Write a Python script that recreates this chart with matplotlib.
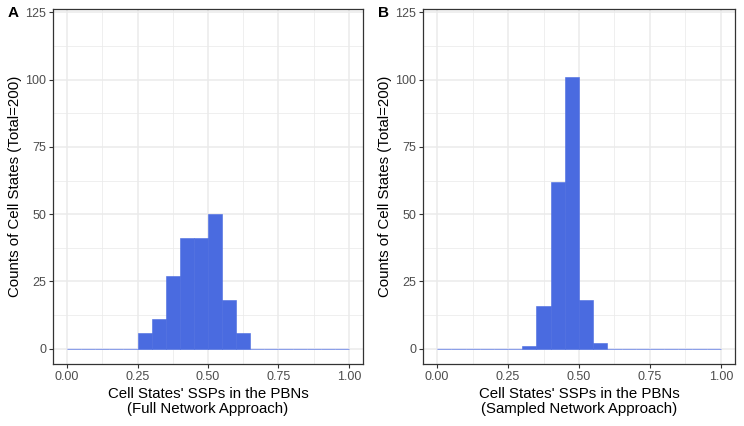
import numpy as np
import matplotlib.pyplot as plt

plt.rcParams['font.family'] = ['Liberation Sans', 'DejaVu Sans']

# histogram bins, width 0.05 from 0 to 1
bin_edges = np.round(np.arange(0, 1.0001, 0.05), 2)

counts_full = [0, 0, 0, 0, 0, 6, 11, 27, 41, 41, 50, 18, 6, 0, 0, 0, 0, 0, 0, 0]
counts_sampled = [0, 0, 0, 0, 0, 0, 1, 16, 62, 101, 18, 2, 0, 0, 0, 0, 0, 0, 0, 0]

xlabels = ["Cell States' SSPs in the PBNs\n(Full Network Approach)",
           "Cell States' SSPs in the PBNs\n(Sampled Network Approach)"]
ylabel = "Counts of Cell States (Total=200)"
panel_tags = ['A', 'B']

W, H = 744, 426
fig = plt.figure(figsize=(W / 100, H / 100), dpi=100)

# axes boxes in pixels: left, top, right, bottom
boxes = [(53, 9, 363, 364), (423, 9, 735, 364)]

for i, counts in enumerate([counts_full, counts_sampled]):
    l, t, r, b = boxes[i]
    ax = fig.add_axes([l / W, 1 - b / H, (r - l) / W, (b - t) / H])
    ax.set_axisbelow(True)
    # empty bins show up as a thin lavender line along zero
    ax.hlines(0, bin_edges[0], bin_edges[-1], color='#dfe2f5', linewidth=1.3, zorder=1.5)
    ax.bar(bin_edges[:-1], counts, width=0.05, align='edge',
           color='#4A6BE0', edgecolor='#4A6BE0', linewidth=0.4, zorder=2)
    ax.set_xlim(-0.05, 1.05)
    ax.set_ylim(-5.7, 126.3)
    ax.set_xticks([0, 0.25, 0.5, 0.75, 1.0])
    ax.set_xticklabels(['0.00', '0.25', '0.50', '0.75', '1.00'])
    ax.set_xticks([0.125, 0.375, 0.625, 0.875], minor=True)
    ax.set_yticks([0, 25, 50, 75, 100, 125])
    ax.set_yticks([12.5, 37.5, 62.5, 87.5, 112.5], minor=True)
    ax.grid(which='major', color='#EBEBEB', linewidth=1.1)
    ax.grid(which='minor', color='#EBEBEB', linewidth=0.55)
    ax.tick_params(which='major', length=3, width=0.8, color='#333333',
                   labelsize=9, labelcolor='#4D4D4D', pad=2)
    ax.tick_params(which='minor', length=0)
    for s in ax.spines.values():
        s.set_color('#333333')
        s.set_linewidth(0.9)
    ax.set_xlabel(xlabels[i], fontsize=10.8, labelpad=3, linespacing=1.1)
    ax.set_ylabel(ylabel, fontsize=10.8, labelpad=2)
    fig.text((l - 45) / W, 1 - 13 / H, panel_tags[i], fontsize=11,
             fontweight='bold', ha='left', va='center')

fig.savefig('out.png', dpi=100)
